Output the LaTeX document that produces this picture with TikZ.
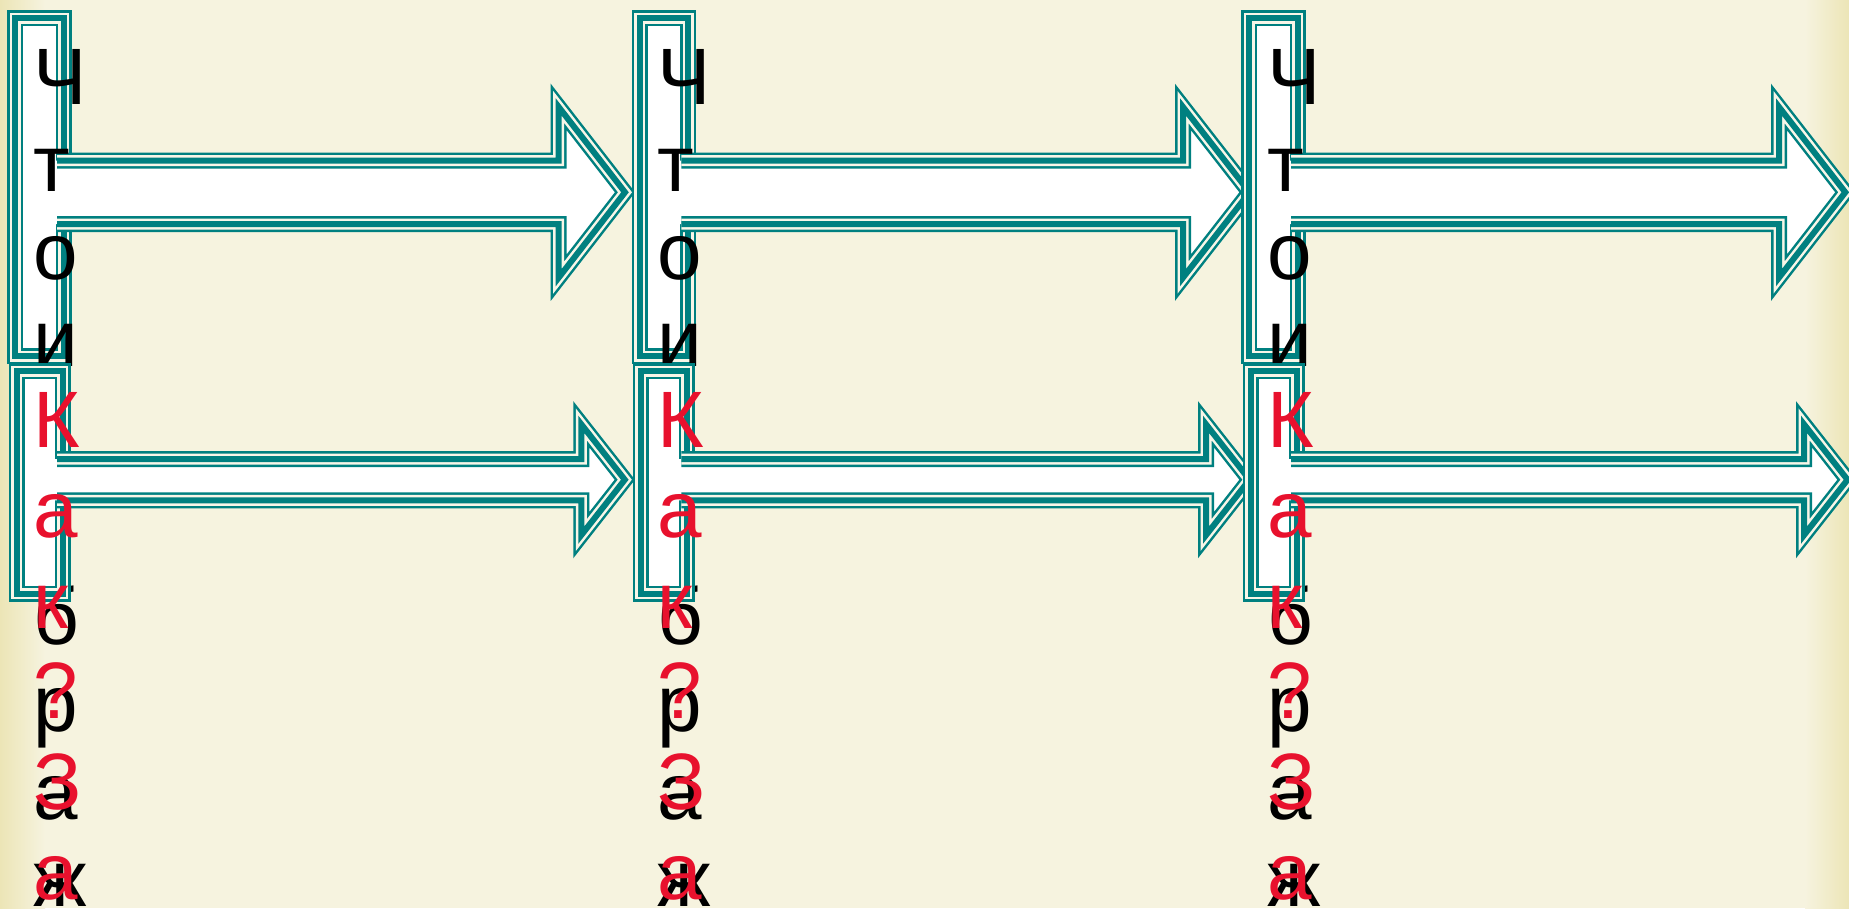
\documentclass[tikz,border=0pt]{standalone}
\usepackage{fontspec}
\setmainfont{Liberation Sans}
\definecolor{tealc}{RGB}{0,128,128}
\definecolor{gapc}{RGB}{248,246,232}
\definecolor{bgc}{RGB}{246,243,223}
\definecolor{edgec}{RGB}{236,229,182}
\definecolor{redc}{RGB}{232,17,45}
\begin{document}
\begin{tikzpicture}[x=1pt,y=-1pt,line join=miter,
  tri/.style={draw=tealc,line width=16pt,
    postaction={draw=gapc,line width=11pt},
    postaction={draw=tealc,line width=6pt}},
  blk/.style={anchor=base west,inner sep=0pt,text=black,font=\fontsize{80}{96}\selectfont},
  redtxt/.style={anchor=base west,inner sep=0pt,text=redc,font=\fontsize{80}{96}\selectfont}]
\useasboundingbox (0,0) rectangle (1849,908);
\fill[bgc] (0,0) rectangle (1849,908);
\shade[left color=edgec,right color=bgc] (0,0) rectangle (45,908);
\shade[left color=bgc,right color=edgec] (1805,0) rectangle (1849,908);
\foreach \g/\dx/\ub/\ut/\lb/\lt in {1/0/558.7/625/581.3/624.8,2/624.4/1183/1249.5/1206/1249.5,3/1234.1/1779/1845.3/1804/1847.5}{
  % upper rectangle
  \draw[tri,fill=white] (15.3+\dx,18) rectangle (63.7+\dx,356);
  % upper arrow
  \fill[white] (50+\dx,160.7) -- (\ub,160.7) -- (\ub,107) -- (\ut,192.3) -- (\ub,277.6) -- (\ub,224) -- (50+\dx,224) -- cycle;
  \draw[tri] (57+\dx,160.7) -- (\ub,160.7) -- (\ub,107) -- (\ut,192.3) -- (\ub,277.6) -- (\ub,224) -- (57+\dx,224);
  % black letters
  \foreach \i/\y/\l in {0/104/Ч,1/191/т,2/279/о,3/366/и,6/644/б,7/731/р,8/819/а,9/906/ж}{
    \node[blk] (b\g-\i) at (33+\dx,\y) {\l};
  }
  % lower rectangle
  \draw[tri,fill=white] (16.5+\dx,371) rectangle (62.5+\dx,593.7);
  % lower arrow
  \fill[white] (50+\dx,459) -- (\lb,459) -- (\lb,424.3) -- (\lt,479.7) -- (\lb,535.1) -- (\lb,500.4) -- (50+\dx,500.4) -- cycle;
  \draw[tri] (57+\dx,459) -- (\lb,459) -- (\lb,424.3) -- (\lt,479.7) -- (\lb,535.1) -- (\lb,500.4) -- (57+\dx,500.4);
  % red letters
  \foreach \i/\l in {0/К,1/а,2/к,3/?,4/З,5/а}{
    \node[redtxt] (r\g-\i) at (33+\dx,{447+90.5*\i}) {\l};
  }
}
\end{tikzpicture}
\end{document}
